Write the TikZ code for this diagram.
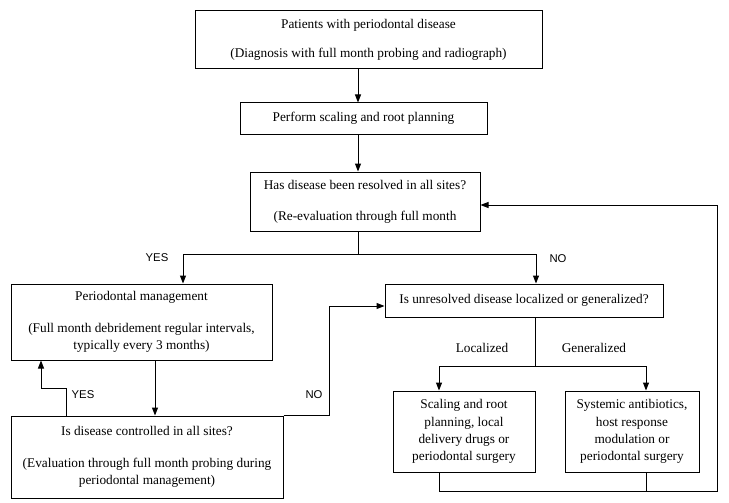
\documentclass[tikz,border=0pt]{standalone}
\usepackage{fontspec}
\setmainfont{Liberation Serif}
\newfontfamily\answersans{Liberation Sans}
\usepackage{tikz}
\usetikzlibrary{arrows.meta}
\tikzset{
    flow box/.style={draw, line width=1pt, inner sep=0pt, align=center,
        font=\fontsize{13.3}{17.3}\selectfont},
    flow line/.style={line width=1pt},
    flow arrow/.style={line width=1pt, -{Triangle[length=8pt,width=6pt]}},
    answer/.style={font=\answersans\fontsize{11.3}{13}\selectfont},
    branch/.style={font=\fontsize{13.3}{16}\selectfont},
}

\begin{document}
\begin{tikzpicture}[x=1pt,y=-1pt]
\useasboundingbox (0,0) rectangle (729,503);

\node[flow box, minimum width=347, minimum height=58] (patients) at (368.5,40)
    {Patients with periodontal disease\\[11.7pt](Diagnosis with full month probing and radiograph)};
\node[flow box, minimum width=247, minimum height=31] (scaling) at (363.5,118.5)
    {Perform scaling and root planning};
\node[flow box, minimum width=230, minimum height=59] (resolved) at (365,201.5)
    {Has disease been resolved in all sites?\\[13.7pt](Re-evaluation through full month};
\node[flow box, minimum width=261, minimum height=76] (management) at (141.5,322)
    {Periodontal management\\[14.7pt](Full month debridement regular intervals,\\typically every 3 months)};
\node[flow box, minimum width=278, minimum height=33] (unresolved) at (524,300.5)
    {Is unresolved disease localized or generalized?};
\node[flow box, minimum width=272, minimum height=82] (controlled) at (147,457)
    {Is disease controlled in all sites?\\[14.7pt](Evaluation through full month probing during\\periodontal management)};
\node[flow box, minimum width=142, minimum height=81] (local) at (464,431.5)
    {Scaling and root\\planning, local\\delivery drugs or\\periodontal surgery};
\node[flow box, minimum width=134, minimum height=81] (general) at (632,431.5)
    {Systemic antibiotics,\\host response\\modulation or\\periodontal surgery};

% main spine
\coordinate (spine) at (358,0);
\draw[flow arrow] (patients.south -| spine) -- (scaling.north -| spine);
\draw[flow arrow] (scaling.south -| spine) -- (resolved.north -| spine);
\coordinate (yes split) at (183,254);
\coordinate (no split) at (536,254);
\draw[flow line] (resolved.south -| spine) -- (spine |- yes split);
\draw[flow line] (yes split) -- (no split);
\draw[flow arrow] (yes split) -- (management.north -| yes split);
\draw[flow arrow] (no split) -- (unresolved.north -| no split);
\node[answer] (yes top) at (157,258) {YES};
\node[answer] (no top) at (558,259) {NO};

% maintenance loop
\coordinate (down) at (155,0);
\draw[flow arrow] (management.south -| down) -- (controlled.north -| down);
\coordinate (yes foot) at (66,388);
\coordinate (yes loop) at (41,388);
\draw[flow arrow] (controlled.north -| yes foot) -- (yes foot) -- (yes loop) -- (management.south -| yes loop);
\node[answer] (yes side) at (83,395) {YES};
\coordinate (no bend) at (329,306);
\draw[flow arrow] (controlled.north east) -| (no bend) -- (unresolved.west |- no bend);
\node[answer] (no side) at (314,395) {NO};

% therapy fork
\coordinate (fork) at (535,366);
\coordinate (fork left) at (439,366);
\coordinate (fork right) at (646,366);
\draw[flow line] (unresolved.south -| fork) -- (fork);
\draw[flow line] (fork left) -- (fork right);
\draw[flow arrow] (fork left) -- (local.north -| fork left);
\draw[flow arrow] (fork right) -- (general.north -| fork right);
\node[branch] (localized) at (482,348) {Localized};
\node[branch] (generalized) at (594,348) {Generalized};

% back to re-evaluation
\coordinate (back left) at (439,491);
\coordinate (back corner) at (717,491);
\coordinate (back top) at (717,205);
\draw[flow line] (general.south -| fork right) -- (fork right |- back left);
\draw[flow arrow] (local.south -| fork left) -- (back left) -- (back corner) -- (back top) -- (resolved.east |- back top);
\end{tikzpicture}
\end{document}
